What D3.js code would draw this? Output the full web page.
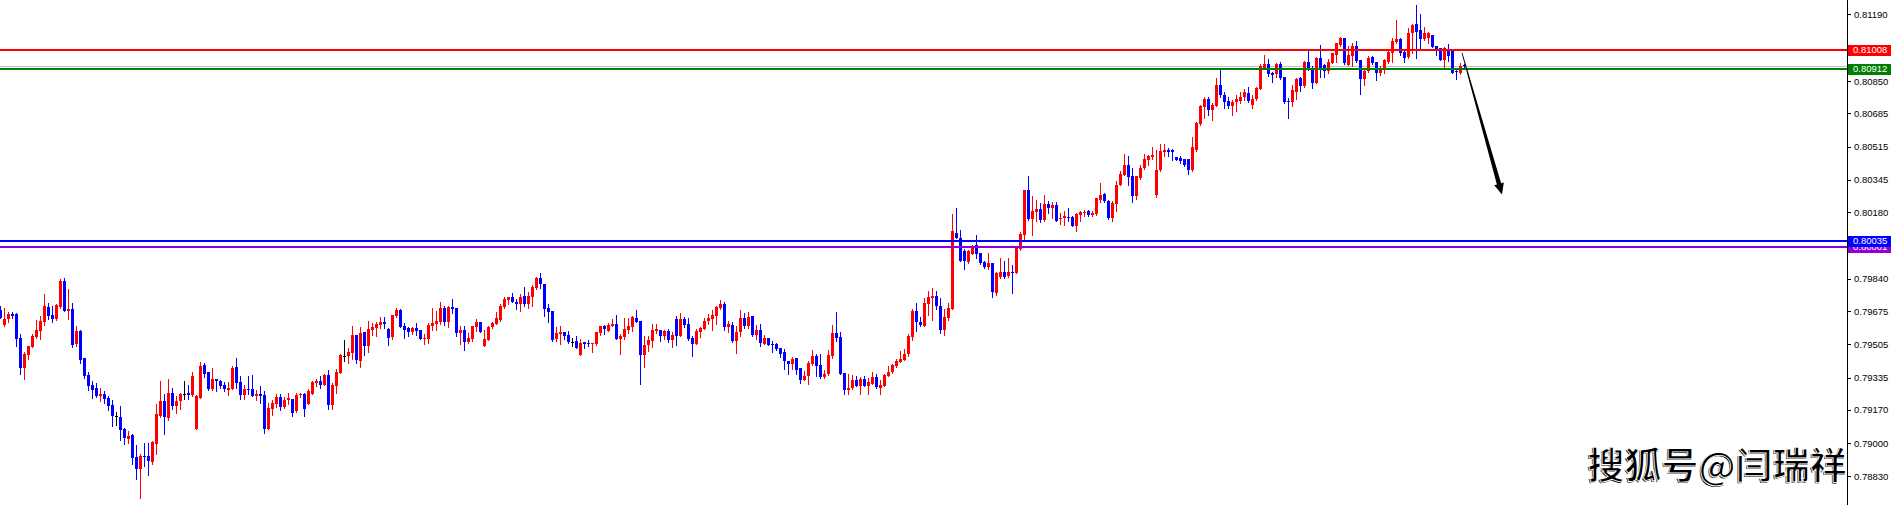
<!DOCTYPE html>
<html><head><meta charset="utf-8">
<script src="https://cdn.jsdelivr.net/npm/d3@7"></script>
<style>html,body{margin:0;padding:0;background:#fff;overflow:hidden}</style>
</head><body><svg id="c" width="1894" height="505"></svg>
<script>
// Candle values, price x 100000 (one candle per bar index)
const opens = [79679,79603,79634,79659,79659,79537,79384,79452,79493,79540,79574,79620,79696,79654,79634,79693,79827,79676,79684,79506,79574,79433,79348,79297,79282,79243,79252,79230,79196,79136,79135,79070,79023,79040,78931,78867,78934,78936,78904,78997,79138,79216,79130,79257,79192,79213,79250,79257,79247,79070,79233,79399,79362,79277,79325,79318,79297,79272,79279,79387,79311,79248,79277,79277,79243,79252,79247,79070,79175,79201,79238,79187,79218,79226,79162,
79244,79249,79201,79249,79306,79318,79298,79350,79193,79294,79359,79447,79447,79459,79552,79422,79566,79498,79580,79588,79603,79619,79583,79540,79647,79680,79596,79588,79569,79588,79576,79532,79532,79596,79608,79617,79690,79620,79693,79690,79563,79578,79515,79532,79591,79617,79498,79529,79591,79608,79630,79693,79732,79744,79722,79709,79749,79710,79744,79790,79841,79812,79690,79675,79532,79557,79566,79552,79518,79520,79452,79515,79512,79508,79506,79563,79600,
79574,79600,79608,79532,79544,79579,79595,79639,79625,79450,79501,79523,79573,79578,79549,79573,79527,79634,79549,79634,79608,79537,79506,79566,79583,79624,79632,79651,79688,79710,79595,79605,79523,79566,79639,79600,79647,79552,79579,79506,79537,79506,79505,79484,79464,79418,79406,79435,79383,79320,79342,79405,79444,79400,79340,79354,79444,79562,79544,79359,79269,79282,79320,79294,79328,79294,79303,79340,79282,79294,79345,79362,79396,79413,79427,
79455,79544,79673,79618,79600,79710,79740,79752,79698,79579,79639,79684,80075,80049,79980,79925,79968,80010,79970,79925,79902,79919,79769,79851,79876,79854,79876,79868,79990,80063,80292,80143,80180,80197,80138,80219,80199,80216,80143,80151,80156,80156,80109,80163,80177,80185,80165,80168,80244,80273,80236,80151,80219,80321,80372,
80423,80367,80261,80355,80406,80448,80462,80266,80397,80485,80496,80496,80462,80458,80453,80451,80394,80499,80631,80716,80759,80703,80723,80830,80776,80748,80720,80740,80750,80767,80791,80725,80757,80809,80915,80937,80893,80886,80937,80872,80750,80742,80796,80864,80825,80949,
80915,80842,80966,80932,80903,80944,80983,81034,81068,80932,80975,81029,80958,80861,80903,80971,80949,80890,80907,80949,80992,81048,81065,81000,80971,81093,81141,81110,81065,81068,81085,81029,81017,80958,81012,81008,80902,80893,80932];
const highs = [79701,79690,79668,79671,79664,79557,79464,79494,79557,79628,79647,79761,79715,79701,79710,79837,79846,79786,79715,79596,79579,79437,79362,79318,79308,79281,79264,79243,79218,79158,79191,79077,79062,79045,78992,78946,79002,79001,79009,79201,79318,79252,79328,79282,79240,79257,79318,79297,79362,79247,79413,79409,79365,79384,79328,79323,79311,79311,79393,79435,79345,79297,79345,79348,79272,79292,79264,79206,79221,79252,79252,79238,79257,79226,79257,
79257,79257,79274,79315,79325,79345,79354,79371,79305,79379,79456,79527,79486,79598,79552,79591,79569,79625,79612,79617,79642,79642,79586,79654,79688,79685,79613,79591,79591,79612,79576,79557,79612,79690,79673,79722,79698,79698,79736,79690,79596,79600,79563,79600,79634,79620,79580,79600,79617,79668,79710,79748,79744,79765,79736,79761,79800,79770,79807,79849,79868,79812,79710,79675,79595,79600,79569,79574,79535,79546,79532,79518,79527,79512,79569,79600,79605,
79612,79634,79654,79557,79639,79639,79651,79680,79625,79546,79549,79608,79608,79578,79579,79583,79566,79647,79664,79642,79637,79546,79583,79591,79639,79659,79680,79702,79730,79719,79622,79617,79600,79680,79664,79671,79647,79603,79608,79554,79537,79523,79510,79484,79481,79422,79439,79435,79383,79366,79422,79478,79456,79454,79371,79478,79603,79668,79566,79359,79354,79349,79342,79337,79345,79332,79362,79354,79320,79354,79396,79405,79430,79473,79481,
79557,79684,79715,79642,79740,79776,79791,79778,79740,79684,79715,80168,80199,80087,79990,79987,80012,80063,79973,79931,79973,79919,79876,79947,79931,79947,79908,79995,80078,80295,80367,80261,80244,80228,80267,80236,80233,80233,80177,80185,80199,80160,80177,80185,80190,80190,80185,80253,80328,80278,80244,80236,80338,80392,80477,
80465,80406,80367,80423,80477,80473,80512,80499,80529,80528,80507,80502,80462,80465,80453,80451,80563,80638,80728,80770,80770,80737,80867,80915,80796,80770,80753,80776,80796,80809,80821,80776,80821,80935,80982,80962,80898,80940,80945,80872,80762,80830,80864,80869,80952,81012,
80924,80971,81034,80937,80961,80995,81046,81076,81068,81031,81046,81054,80958,80915,80975,80975,80949,80924,80961,81005,81068,81161,81068,81003,81119,81141,81238,81192,81127,81098,81085,81029,81017,81022,81039,81012,80907,80944,80937];
const lows = [79639,79600,79617,79640,79498,79354,79325,79430,79493,79537,79532,79603,79634,79620,79630,79688,79676,79634,79489,79498,79409,79331,79272,79231,79235,79213,79206,79167,79085,79091,79014,78997,79001,78895,78816,78722,78883,78836,78895,78943,79133,79048,79116,79172,79153,79175,79223,79223,79243,79070,79233,79337,79269,79272,79264,79282,79264,79248,79277,79282,79226,79223,79252,79243,79218,79204,79053,79070,79145,79187,79167,79180,79201,79141,79158,
79235,79137,79201,79249,79291,79283,79298,79176,79176,79257,79359,79422,79410,79430,79410,79391,79452,79464,79554,79549,79588,79588,79503,79532,79642,79595,79537,79549,79557,79554,79532,79506,79512,79580,79578,79608,79605,79595,79664,79549,79508,79478,79512,79524,79574,79569,79498,79529,79588,79608,79624,79690,79712,79719,79685,79676,79698,79692,79698,79787,79792,79651,79620,79522,79520,79506,79532,79512,79495,79486,79452,79486,79498,79468,79503,79552,79557,
79574,79596,79532,79456,79532,79562,79574,79620,79303,79389,79469,79493,79562,79523,79532,79515,79490,79501,79549,79591,79527,79447,79506,79544,79583,79608,79579,79608,79685,79579,79566,79518,79461,79549,79586,79588,79546,79532,79495,79506,79501,79464,79476,79439,79379,79354,79379,79354,79308,79320,79303,79400,79345,79332,79332,79349,79434,79523,79354,79249,79249,79274,79291,79252,79294,79249,79303,79282,79249,79294,79342,79359,79391,79413,79427,
79447,79528,79574,79596,79600,79656,79628,79684,79561,79554,79630,79684,80049,79931,79888,79922,79964,79944,79914,79893,79888,79747,79757,79846,79842,79851,79766,79868,79985,80032,80139,80063,80134,80132,80134,80177,80151,80134,80117,80112,80134,80109,80083,80134,80160,80160,80160,80165,80231,80231,80146,80134,80188,80316,80372,
80321,80231,80248,80351,80402,80423,80453,80256,80392,80468,80468,80448,80448,80431,80414,80377,80389,80490,80626,80660,80677,80652,80720,80770,80711,80714,80674,80694,80737,80753,80745,80711,80753,80809,80915,80876,80847,80872,80859,80737,80660,80720,80759,80801,80818,80906,
80813,80839,80869,80869,80893,80941,80949,81031,80936,80929,80927,80949,80784,80830,80898,80937,80856,80878,80893,80941,80946,81042,80983,80946,80966,80992,80966,81017,81059,81042,81022,80983,80958,80920,80954,80890,80861,80886,80917];
const closes = [79639,79634,79659,79651,79532,79384,79455,79494,79549,79578,79623,79700,79651,79634,79705,79829,79676,79684,79501,79574,79426,79345,79294,79272,79243,79252,79226,79192,79136,79136,79065,79028,79038,78926,78867,78934,78929,78907,79004,79150,79216,79133,79257,79192,79216,79252,79250,79247,79343,79243,79396,79354,79277,79328,79318,79291,79274,79282,79384,79309,79248,79277,79272,79243,79250,79243,79070,79180,79206,79238,79187,79221,79233,79155,79247,
79249,79176,79267,79310,79318,79298,79349,79193,79298,79362,79452,79447,79466,79552,79427,79563,79498,79583,79595,79607,79617,79607,79537,79654,79680,79595,79580,79569,79588,79574,79532,79537,79603,79612,79624,79690,79617,79693,79685,79563,79576,79515,79535,79596,79617,79569,79532,79593,79613,79639,79698,79736,79744,79719,79710,79744,79710,79749,79800,79841,79812,79685,79671,79527,79561,79569,79546,79515,79518,79486,79512,79506,79506,79512,79566,79596,79583,
79603,79608,79532,79549,79583,79596,79646,79620,79450,79501,79527,79578,79583,79549,79573,79527,79552,79549,79634,79603,79532,79506,79571,79588,79624,79639,79654,79693,79710,79595,79608,79523,79569,79639,79600,79646,79552,79578,79512,79537,79501,79503,79481,79456,79417,79406,79430,79374,79320,79345,79410,79444,79396,79340,79354,79450,79562,79537,79354,79269,79281,79323,79294,79325,79294,79311,79340,79286,79298,79349,79362,79400,79418,79430,79456,
79549,79673,79617,79603,79715,79747,79752,79698,79579,79642,79690,80083,80049,79931,79931,79980,80002,79964,79919,79902,79919,79773,79871,79876,79851,79876,79868,79995,80066,80292,80146,80185,80197,80138,80219,80199,80216,80134,80151,80160,80149,80109,80168,80180,80183,80165,80173,80250,80270,80236,80151,80228,80321,80375,80423,
80358,80261,80363,80406,80453,80465,80473,80397,80494,80496,80485,80485,80448,80443,80423,80394,80511,80635,80720,80759,80703,80725,80830,80776,80740,80720,80745,80759,80770,80796,80750,80759,80816,80926,80937,80886,80881,80937,80864,80742,80740,80804,80860,80826,80949,80910,
80842,80966,80907,80903,80949,80992,81042,81068,80941,80983,81029,80954,80861,80903,80966,80944,80893,80907,80958,81000,81056,81065,80992,80966,81097,81136,81102,81065,81093,81093,81025,81012,80958,81017,80978,80893,80895,80927,80924];

// Right price scale labels
const tickLabels = ["0.81190","0.80850","0.80685","0.80515","0.80345","0.80180","0.79840","0.79675","0.79505","0.79335","0.79170","0.79000","0.78830"];
// Horizontal level lines
const levelPrices = [0.80001, 0.80035, 0.80912, 0.81008];
const levelColors = ["#9400d3", "#0000ff", "#008000", "#ff0000"];
// Trend arrow annotation: [bar index, price]
const arrowFrom = [365.5, 0.80993];
const arrowTo = [375.5, 0.80270];
const watermark = "搜狐号@闫瑞祥";

const W = 1894, H = 505, axisX = 1847;
const svg = d3.select("#c");
const x = d3.scaleLinear().domain([0, 461.75]).range([0, axisX]);
const y = d3.scaleLinear().domain([0.78830, 0.81190]).range([476.4, 14.4]);

const data = d3.range(opens.length).map(i => ({i, o: opens[i]/1e5, h: highs[i]/1e5, l: lows[i]/1e5, c: closes[i]/1e5}));
const col = d => d.c > d.o ? "#ff0000" : (d.c < d.o ? "#0000ff" : "#000000");

const plot = svg.append("g").attr("shape-rendering", "crispEdges");

// bid line (last close)
const last = data[data.length - 1];
plot.append("line").attr("x1", 0).attr("x2", axisX).attr("y1", Math.round(y(last.c)) + 0.5).attr("y2", Math.round(y(last.c)) + 0.5)
  .attr("stroke", "#c0c0c0").attr("stroke-width", 1);

plot.selectAll("rect.wick").data(data).join("rect").attr("class", "wick")
  .attr("x", d => Math.round(x(d.i)))
  .attr("width", 1)
  .attr("y", d => Math.round(y(d.h)))
  .attr("height", d => Math.max(1, Math.round(y(d.l)) - Math.round(y(d.h)) + 1))
  .attr("fill", col);

plot.selectAll("rect.body").data(data).join("rect").attr("class", "body")
  .attr("x", d => Math.round(x(d.i)) - 1)
  .attr("width", 3)
  .attr("y", d => Math.round(y(Math.max(d.o, d.c))))
  .attr("height", d => Math.max(1, Math.round(y(Math.min(d.o, d.c))) - Math.round(y(Math.max(d.o, d.c)))))
  .attr("fill", col);

// level lines
plot.selectAll("line.level").data(levelPrices).join("line").attr("class", "level")
  .attr("x1", 0).attr("x2", axisX)
  .attr("y1", p => Math.round(y(p))).attr("y2", p => Math.round(y(p)))
  .attr("stroke", (p, i) => levelColors[i]).attr("stroke-width", 2);

// arrow (tapered)
{
  const x0 = x(arrowFrom[0]), y0 = y(arrowFrom[1]), x1 = x(arrowTo[0]), y1 = y(arrowTo[1]);
  const dx = x1 - x0, dy = y1 - y0, len = Math.hypot(dx, dy);
  const ux = dx / len, uy = dy / len, nx = -uy, ny = ux;
  const headLen = 11, headW = 5, w0 = 0.4, w1 = 2.2;
  const bx = x1 - ux * headLen, by = y1 - uy * headLen;
  const pts = [
    [x0 + nx * w0, y0 + ny * w0],
    [bx + nx * w1, by + ny * w1],
    [bx + nx * headW, by + ny * headW],
    [x1, y1],
    [bx - nx * headW, by - ny * headW],
    [bx - nx * w1, by - ny * w1],
    [x0 - nx * w0, y0 - ny * w0]
  ];
  svg.append("path").attr("d", d3.line()(pts) + "Z").attr("fill", "#000");
}

// watermark: black glyphs with thin white emboss lines
const wm = svg.append("g").attr("font-family", "'Noto Sans CJK SC', sans-serif").attr("font-size", 37).attr("font-weight", 700).attr("text-anchor", "end");
wm.append("text").attr("x", 1846).attr("y", 480).text(watermark).attr("fill", "#000");
wm.append("text").attr("x", 1847).attr("y", 479).text(watermark)
  .attr("fill", "none").attr("stroke", "#fff").attr("stroke-width", 0.9);

// axis
svg.append("line").attr("x1", axisX + 0.5).attr("x2", axisX + 0.5).attr("y1", 0).attr("y2", H).attr("stroke", "#000").attr("stroke-width", 1);
const axis = d3.axisRight(y).tickValues(tickLabels.map(Number)).tickFormat(d3.format(".5f")).tickSize(3).tickPadding(3).tickSizeOuter(0);
const ag = svg.append("g").attr("transform", `translate(${axisX + 1},0)`).call(axis);
ag.select(".domain").remove();
ag.selectAll("line").attr("stroke", "#000").attr("shape-rendering", "crispEdges");
ag.selectAll("text").attr("font-family", "'Liberation Sans', Arial, sans-serif").attr("font-size", 9.5).attr("fill", "#000");

// level price tags
const tagG = svg.append("g");
levelPrices.forEach((p, i) => {
  const yy = Math.round(y(p));
  tagG.append("rect").attr("x", axisX + 1).attr("y", yy - 5.5).attr("width", W - axisX - 4).attr("height", 11)
    .attr("fill", levelColors[i]).attr("shape-rendering", "crispEdges");
  tagG.append("text").attr("x", axisX + 6).attr("y", yy).attr("dy", "0.36em")
    .attr("font-family", "'Liberation Sans', Arial, sans-serif").attr("font-size", 9.5).attr("fill", "#fff")
    .text(d3.format(".5f")(p));
});
</script></body></html>
